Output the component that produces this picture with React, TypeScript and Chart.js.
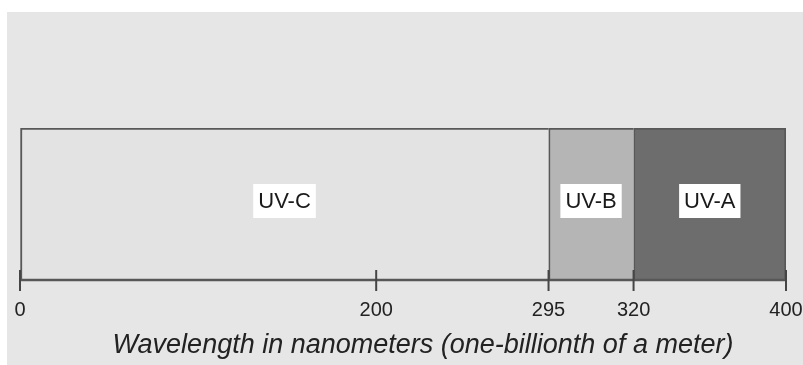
import React, { useEffect, useRef } from 'react';
import { Chart, registerables, LinearScale } from 'chart.js';

Chart.register(...registerables);

// ---- data ----
const bandNames = ['UV-C', 'UV-B', 'UV-A'];
const bandStarts = [0, 295, 320];
const bandEnds = [295, 320, 400];
const bandColors = ['#e3e3e3', '#b5b5b5', '#6d6d6d'];
const tickValues = [0, 200, 295, 320, 400];
const axisTitle = 'Wavelength in nanometers (one-billionth of a meter)';

// schematic (non-linear) wavelength axis: break values and their share of the axis length
const axisBreaks = [0, 200, 295, 320, 400];
const axisShares = [0, 0.465, 0.69, 0.801, 1];

function valueToDecimal(v: number): number {
  const n = axisBreaks.length;
  for (let i = 1; i < n; i++) {
    if (v <= axisBreaks[i] || i === n - 1) {
      const a = axisBreaks[i - 1];
      const b = axisBreaks[i];
      return axisShares[i - 1] + ((v - a) / (b - a)) * (axisShares[i] - axisShares[i - 1]);
    }
  }
  return 0;
}

function decimalToValue(d: number): number {
  const n = axisShares.length;
  for (let i = 1; i < n; i++) {
    if (d <= axisShares[i] || i === n - 1) {
      const a = axisShares[i - 1];
      const b = axisShares[i];
      return axisBreaks[i - 1] + ((d - a) / (b - a)) * (axisBreaks[i] - axisBreaks[i - 1]);
    }
  }
  return 0;
}

class PiecewiseScale extends LinearScale {
  static id = 'piecewise';
  static defaults = LinearScale.defaults;
  getPixelForValue(value: any) {
    if (value === null || value === undefined || Number.isNaN(+value)) return NaN;
    return this.getPixelForDecimal(valueToDecimal(+value));
  }
  getValueForPixel(pixel: number) {
    return decimalToValue(this.getDecimalForPixel(pixel));
  }
}
Chart.register(PiecewiseScale as any);

const FONT = '"Liberation Sans", Arial, Helvetica, sans-serif';

const bandLabelPlugin = {
  id: 'bandLabels',
  afterDatasetsDraw(chart: any) {
    const ctx = chart.ctx;
    const area = chart.chartArea;
    const xs = chart.scales.x;
    ctx.save();
    // axis line + ticks
    ctx.strokeStyle = '#575757';
    ctx.lineWidth = 2.5;
    ctx.beginPath();
    ctx.moveTo(area.left, area.bottom);
    ctx.lineTo(area.right, area.bottom);
    ctx.stroke();
    ctx.strokeStyle = '#454545';
    ctx.lineWidth = 2;
    tickValues.forEach((v) => {
      const px = xs.getPixelForValue(v);
      ctx.beginPath();
      ctx.moveTo(px, area.bottom - 10);
      ctx.lineTo(px, area.bottom + 11);
      ctx.stroke();
    });
    // band labels in white boxes
    ctx.font = `22px ${FONT}`;
    ctx.textAlign = 'center';
    ctx.textBaseline = 'middle';
    chart.data.datasets.forEach((ds: any, i: number) => {
      const el = chart.getDatasetMeta(i).data[0];
      if (!el) return;
      const cx = (el.x + el.base) / 2;
      const cy = el.y - 3;
      const w = ctx.measureText(ds.label).width + 10;
      ctx.fillStyle = '#ffffff';
      ctx.fillRect(cx - w / 2, cy - 17, w, 34);
      ctx.fillStyle = '#1a1a1a';
      ctx.fillText(ds.label, cx, cy + 1);
    });
    ctx.restore();
  },
  afterDraw(chart: any) {
    const ctx = chart.ctx;
    const area = chart.chartArea;
    ctx.save();
    ctx.font = `italic 27px ${FONT}`;
    ctx.fillStyle = '#222222';
    ctx.textAlign = 'center';
    ctx.textBaseline = 'alphabetic';
    ctx.fillText(axisTitle, (area.left + area.right) / 2 + 20, area.bottom + 73);
    ctx.restore();
  },
};

export default function App() {
  const ref = useRef<HTMLCanvasElement>(null);

  useEffect(() => {
    document.body.style.margin = '0';
    if (!ref.current) return;
    const datasets = bandNames.map((name, i) => ({
      label: name,
      data: [[bandStarts[i], bandEnds[i]]],
      backgroundColor: bandColors[i],
      borderColor: '#585858',
      borderWidth: { top: 2, left: 2, right: i === bandNames.length - 1 ? 2 : 0, bottom: 0 },
      borderSkipped: false,
      barPercentage: 1,
      categoryPercentage: 1,
    }));
    const chart = new Chart(ref.current, {
      type: 'bar',
      data: { labels: ['spectrum'], datasets: datasets as any },
      plugins: [bandLabelPlugin],
      options: {
        indexAxis: 'y',
        animation: false,
        responsive: false,
        layout: { padding: { left: 13, right: 17, top: 116, bottom: 43 } },
        plugins: { legend: { display: false }, tooltip: { enabled: false }, title: { display: false } },
        scales: {
          x: {
            type: 'piecewise' as any,
            position: 'bottom',
            min: 0,
            max: 400,
            border: { display: false },
            grid: { display: true, drawOnChartArea: false, drawTicks: true, tickLength: 10, color: 'rgba(0,0,0,0)' },
            ticks: {
              autoSkip: false,
              maxRotation: 0,
              padding: 8,
              color: '#222222',
              font: { family: FONT, size: 20 },
              callback: (v: any) => String(v),
            },
            afterBuildTicks: (s: any) => {
              s.ticks = tickValues.map((v) => ({ value: v }));
            },
            afterFit: (s: any) => {
              s.height = 42;
              s.paddingLeft = 0;
              s.paddingRight = 0;
            },
          } as any,
          y: { type: 'category', display: false, stacked: true },
        },
      } as any,
    });
    return () => chart.destroy();
  }, []);

  return (
    <div style={{ position: 'relative', width: 803, height: 365, background: '#ffffff' }}>
      <div style={{ position: 'absolute', left: 7, top: 12, width: 796, height: 353, background: '#e6e6e6' }}>
        <canvas ref={ref} width={796} height={353} style={{ display: 'block' }} />
      </div>
    </div>
  );
}
